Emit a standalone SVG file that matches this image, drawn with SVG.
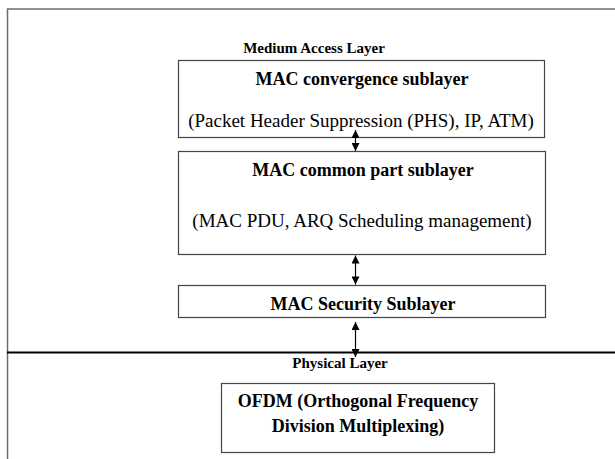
<svg xmlns="http://www.w3.org/2000/svg" width="615" height="459" viewBox="0 0 615 459">
  <style>
    .frame { fill: none; stroke: #6e6e6e; stroke-width: 1.5; }
    .box { fill: #fff; stroke: #444; stroke-width: 1.2; }
    .title { font-family: "Liberation Serif", "Times New Roman", serif; font-weight: bold; font-size: 18px; fill: #000; text-anchor: middle; }
    .sub { font-family: "Liberation Serif", "Times New Roman", serif; font-size: 19px; fill: #000; text-anchor: middle; }
    .layer { font-family: "Liberation Serif", "Times New Roman", serif; font-weight: bold; font-size: 15px; fill: #000; text-anchor: middle; }
    .conn { stroke: #000; stroke-width: 1.2; fill: none; marker-start: url(#head); marker-end: url(#head); }
  </style>
  <defs>
    <marker id="head" viewBox="0 0 10 10" refX="10" refY="5" markerWidth="9" markerHeight="8" markerUnits="userSpaceOnUse" orient="auto-start-reverse">
      <path d="M0,0 L10,5 L0,10 Z" fill="#000"/>
    </marker>
  </defs>
  <rect width="615" height="459" fill="#fff"/>

  <!-- outer frame and layer divider -->
  <path class="frame" d="M615,9 H7.5 V459"/>
  <line x1="7" y1="352.5" x2="615" y2="352.5" stroke="#000" stroke-width="2"/>

  <text class="layer" x="314" y="53">Medium Access Layer</text>
  <text class="layer" x="340" y="368">Physical Layer</text>

  <g id="mac-convergence">
    <rect class="box" x="178.5" y="60.5" width="366" height="77"/>
    <text class="title" x="362" y="85">MAC convergence sublayer</text>
    <text class="sub" x="361" y="127">(Packet Header Suppression (PHS), IP, ATM)</text>
  </g>

  <g id="mac-common-part">
    <rect class="box" x="178.5" y="151.5" width="367" height="103"/>
    <text class="title" x="363" y="176">MAC common part sublayer</text>
    <text class="sub" x="362" y="227">(MAC PDU, ARQ Scheduling management)</text>
  </g>

  <g id="mac-security">
    <rect class="box" x="178.5" y="285.5" width="367" height="32"/>
    <text class="title" x="363" y="310">MAC Security Sublayer</text>
  </g>

  <g id="ofdm">
    <rect class="box" x="221.5" y="383.5" width="273" height="69"/>
    <text class="title" x="358" y="407">OFDM (Orthogonal Frequency</text>
    <text class="title" x="358" y="432">Division Multiplexing)</text>
  </g>

  <g id="connectors">
    <line class="conn" x1="355.5" y1="130" x2="355.5" y2="151"/>
    <line class="conn" x1="355.5" y1="255.5" x2="355.5" y2="284.5"/>
    <line class="conn" x1="355.5" y1="322" x2="355.5" y2="357"/>
  </g>
</svg>
